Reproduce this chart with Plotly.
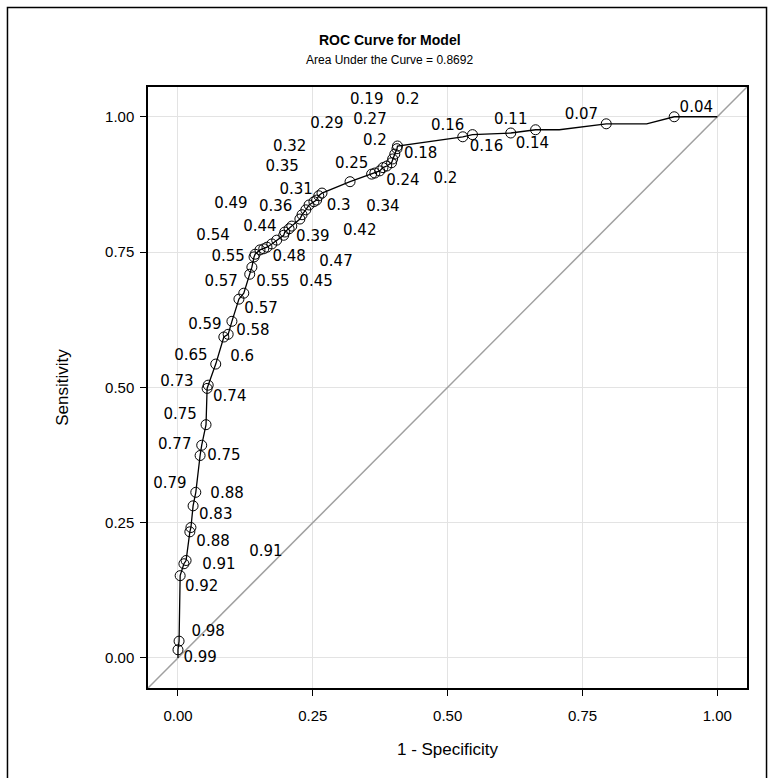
import plotly.graph_objects as go

# ROC curve vertices (1 - specificity, sensitivity)
curve_fpr = [0.000, 0.000, 0.002, 0.004, 0.011, 0.015, 0.022, 0.024, 0.028, 0.033,
             0.041, 0.044, 0.052, 0.054, 0.056, 0.070, 0.085, 0.093, 0.100, 0.113,
             0.122, 0.133, 0.137, 0.141, 0.143, 0.152, 0.159, 0.165, 0.174, 0.183,
             0.196, 0.198, 0.206, 0.211, 0.226, 0.230, 0.237, 0.243, 0.252, 0.257,
             0.261, 0.267, 0.319, 0.359, 0.365, 0.374, 0.380, 0.387, 0.396, 0.398,
             0.402, 0.406, 0.407, 0.528, 0.546, 0.617, 0.663, 0.707, 0.794, 0.869,
             0.920, 1.000]
curve_tpr = [0.000, 0.015, 0.031, 0.152, 0.174, 0.180, 0.233, 0.241, 0.281, 0.306,
             0.374, 0.393, 0.431, 0.498, 0.504, 0.543, 0.593, 0.598, 0.622, 0.663,
             0.674, 0.709, 0.722, 0.741, 0.746, 0.754, 0.756, 0.759, 0.765, 0.772,
             0.781, 0.787, 0.793, 0.798, 0.811, 0.819, 0.828, 0.837, 0.843, 0.846,
             0.854, 0.859, 0.880, 0.894, 0.896, 0.900, 0.906, 0.909, 0.915, 0.922,
             0.931, 0.941, 0.946, 0.963, 0.967, 0.970, 0.976, 0.976, 0.987, 0.987,
             1.000, 1.000]
# which vertices carry an open-circle marker
marked = [False] + [True] * 56 + [False, True, False, True, False]

# cutoff labels: text and where they sit (data units)
label_text = ["0.99", "0.98", "0.92", "0.91", "0.91", "0.88", "0.83", "0.88", "0.79", "0.75",
              "0.77", "0.75", "0.74", "0.73", "0.65", "0.6", "0.58", "0.59", "0.57", "0.57",
              "0.55", "0.45", "0.55", "0.48", "0.47", "0.54", "0.44", "0.39", "0.42", "0.49",
              "0.36", "0.3", "0.34", "0.31", "0.35", "0.25", "0.24", "0.2", "0.32", "0.2",
              "0.18", "0.29", "0.27", "0.19", "0.2", "0.16", "0.16", "0.11", "0.14", "0.07",
              "0.04"]
label_x = [0.041, 0.056, 0.044, 0.076, 0.163, 0.065, 0.070, 0.091, -0.015, 0.085,
           -0.006, 0.004, 0.096, -0.002, 0.024, 0.119, 0.139, 0.050, 0.154, 0.080,
           0.176, 0.256, 0.093, 0.206, 0.293, 0.065, 0.152, 0.250, 0.337, 0.098,
           0.181, 0.298, 0.380, 0.219, 0.193, 0.322, 0.417, 0.496, 0.207, 0.365,
           0.450, 0.276, 0.356, 0.350, 0.426, 0.500, 0.572, 0.617, 0.657, 0.748,
           0.961]
label_y = [0.000, 0.048, 0.130, 0.172, 0.196, 0.213, 0.263, 0.302, 0.320, 0.372,
           0.393, 0.448, 0.481, 0.509, 0.557, 0.556, 0.604, 0.615, 0.644, 0.694,
           0.694, 0.694, 0.741, 0.741, 0.731, 0.780, 0.796, 0.778, 0.789, 0.839,
           0.833, 0.835, 0.833, 0.865, 0.907, 0.913, 0.881, 0.885, 0.944, 0.954,
           0.931, 0.987, 0.993, 1.030, 1.030, 0.983, 0.944, 0.993, 0.950, 1.002,
           1.015]

ticks = [0.0, 0.25, 0.5, 0.75, 1.0]
tick_text = ["0.00", "0.25", "0.50", "0.75", "1.00"]
diag = [-0.1, 1.1]

TICK_FONT = "Liberation Sans, Arial, sans-serif"
LABEL_FONT = "DejaVu Sans, Verdana, sans-serif"

fig = go.Figure()
fig.add_trace(go.Scatter(x=diag, y=diag, mode="lines",
                         line=dict(color="#a0a0a0", width=1.5),
                         hoverinfo="skip", showlegend=False))
fig.add_trace(go.Scatter(x=curve_fpr, y=curve_tpr, mode="lines",
                         line=dict(color="black", width=1.3),
                         showlegend=False))
fig.add_trace(go.Scatter(x=[x for x, m in zip(curve_fpr, marked) if m],
                         y=[y for y, m in zip(curve_tpr, marked) if m],
                         mode="markers",
                         marker=dict(symbol="circle-open", size=10,
                                     color="black", line=dict(width=1)),
                         showlegend=False))
fig.add_trace(go.Scatter(x=label_x, y=label_y, mode="text", text=label_text,
                         textposition="middle center",
                         textfont=dict(family=LABEL_FONT, size=15, color="black"),
                         hoverinfo="skip", showlegend=False))

axis_common = dict(
    range=[-0.0556, 1.055], tickvals=ticks, ticktext=tick_text,
    showgrid=True, gridcolor="#e3e3e3", gridwidth=1, zeroline=False,
    showline=True, linecolor="black", linewidth=1.5, mirror=True,
    ticks="outside", ticklen=6, tickcolor="black", tickwidth=1.2,
    tickfont=dict(family=TICK_FONT, size=15, color="black"),
)
fig.update_xaxes(**axis_common, ticklabelstandoff=7,
                 title=dict(text="1 - Specificity", standoff=20,
                            font=dict(family=TICK_FONT, size=17, color="black")))
fig.update_yaxes(**axis_common, ticklabelstandoff=3,
                 title=dict(text="Sensitivity", standoff=32,
                            font=dict(family=TICK_FONT, size=17, color="black")))

fig.add_annotation(text="<b>ROC Curve for Model</b>", xref="paper", yref="paper",
                   x=0.404, y=1.078, showarrow=False, xanchor="center", yanchor="middle",
                   font=dict(family=TICK_FONT, size=14, color="black"))
fig.add_annotation(text="Area Under the Curve = 0.8692", xref="paper", yref="paper",
                   x=0.404, y=1.045, showarrow=False, xanchor="center", yanchor="middle",
                   font=dict(family=TICK_FONT, size=12, color="black"))

# outer frame around the whole graphic
fig.add_shape(type="rect", xref="paper", yref="paper",
              x0=-0.2346, x1=1.0326, y0=-0.16, y1=1.1323,
              line=dict(color="black", width=1.5), fillcolor="rgba(0,0,0,0)")

fig.update_layout(
    width=774, height=778,
    margin=dict(l=148, r=27, t=87, b=90),
    paper_bgcolor="white", plot_bgcolor="white",
    showlegend=False,
)

fig.write_html("out.html")
